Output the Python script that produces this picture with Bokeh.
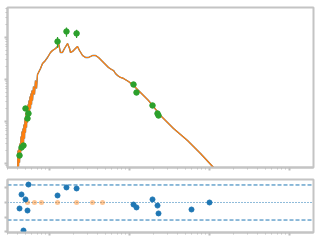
from bokeh.plotting import figure
from bokeh.layouts import column
from bokeh.models import Range1d, LogTicker, FixedTicker, Span
from bokeh.embed import file_html
from bokeh.resources import INLINE

# ---- data (wavelength in micron, flux) ----
model_wave = [0.0398, 0.0404, 0.0410, 0.0416, 0.0422, 0.0428, 0.0434, 0.0441, 0.0447, 0.0453,
              0.0460, 0.0467, 0.0473, 0.0480, 0.0487, 0.0494, 0.0501, 0.0509, 0.0516, 0.0523,
              0.0531, 0.0539, 0.0546, 0.0554, 0.0562, 0.0571, 0.0579, 0.0587, 0.0596, 0.0604,
              0.0613, 0.0631, 0.0649, 0.0668, 0.0688, 0.0708, 0.0729,
              0.0772, 0.0818, 0.0866, 0.0944, 0.1029, 0.109,
              0.119, 0.126, 0.130, 0.133, 0.137, 0.145, 0.154, 0.168, 0.178, 0.183,
              0.194, 0.211, 0.224, 0.237, 0.259, 0.282, 0.307, 0.345, 0.376, 0.410,
              0.447, 0.487, 0.546, 0.596, 0.631, 0.668, 0.708, 0.772, 0.841, 0.972,
              1.122, 1.296, 1.496, 1.728, 1.939, 2.175, 2.441, 3.548, 5.309, 7.72,
              11.22, 15.85]
model_flux = [5.18e-15, 2.04e-14, 8.49e-15, 2.28e-14, 1.06e-14, 2.99e-14, 1.55e-14, 4.39e-14, 2.04e-14, 5.78e-14,
              2.54e-14, 6.81e-14, 2.99e-14, 8.49e-14, 3.94e-14, 1.18e-13, 5.47e-14, 1.64e-13, 7.20e-14, 2.28e-13,
              9.46e-14, 2.54e-13, 1.18e-13, 3.16e-13, 1.64e-13, 3.94e-13, 2.04e-13, 4.64e-13, 2.54e-13, 5.47e-13,
              3.16e-13, 6.81e-13, 4.39e-13, 9.46e-13, 6.11e-13, 1.32e-12, 1.47e-12,
              1.83e-12, 2.41e-12, 2.68e-12, 3.34e-12, 4.39e-12, 4.90e-12,
              5.47e-12, 6.11e-12, 7.20e-12, 5.78e-12, 4.39e-12, 4.39e-12, 5.47e-12, 7.20e-12, 5.47e-12, 4.39e-12,
              4.64e-12, 5.47e-12, 6.11e-12, 4.90e-12, 3.73e-12, 3.34e-12, 3.34e-12, 3.73e-12, 3.73e-12, 3.34e-12,
              2.83e-12, 2.41e-12, 1.93e-12, 1.73e-12, 1.64e-12, 1.39e-12, 1.25e-12, 1.12e-12, 1.06e-12, 8.95e-13,
              7.20e-13, 5.47e-13, 4.16e-13, 3.16e-13, 2.41e-13, 1.83e-13, 1.39e-13, 6.81e-14, 3.53e-14, 1.73e-14,
              8.03e-15, 4.16e-15]

phot_wave = [0.0422, 0.0447, 0.0473, 0.0501, 0.0531, 0.0546, 0.126, 0.163, 0.218,
             1.122, 1.223, 1.939, 2.239, 2.304]
phot_flux = [1.55e-14, 2.41e-14, 2.68e-14, 2.04e-13, 1.18e-13, 1.55e-13, 8.03e-12, 1.39e-11, 1.25e-11,
             7.60e-13, 4.90e-13, 2.41e-13, 1.55e-13, 1.39e-13]
phot_err = [1.5e-15, 2.5e-15, 2.7e-15, 2.0e-14, 1.2e-14, 1.5e-14, 2.3e-12, 3.5e-12, 2.8e-12,
            7e-14, 5e-14, 2.4e-14, 1.5e-14, 1.4e-14]

resid_wave = [0.0422, 0.0447, 0.0473, 0.0501, 0.0531, 0.0546, 0.126, 0.163, 0.218,
              1.122, 1.223, 1.939, 2.239, 2.304, 5.957, 10.0]
resid_val = [-0.41, 0.55, -1.92, 0.21, -0.55, 1.23, 0.48, 1.03, 0.96,
             -0.14, -0.34, 0.21, -0.21, -0.75, -0.48, 0.0]

excl_wave = [0.0531, 0.0649, 0.0794, 0.126, 0.218, 0.345, 0.460]
excl_val = [0.0, 0.0, 0.0, 0.0, 0.0, 0.0, 0.0]

limit = 1.2

BLUE = "#1f77b4"
ORANGE = "#ff7f0e"
GREEN = "#2ca02c"
FRAME = "#c4c4c4"
TICK = "#c0c0c0"

x_lo, x_hi = 0.02985, 199.5


def style(p):
    p.grid.visible = False
    p.outline_line_color = FRAME
    p.outline_line_width = 2
    p.background_fill_color = "white"
    p.border_fill_color = "white"
    for ax in p.xaxis + p.yaxis:
        ax.axis_line_color = FRAME
        ax.axis_line_width = 2
        ax.major_tick_line_color = TICK
        ax.major_tick_line_width = 2
        ax.major_tick_out = 3
        ax.major_tick_in = 0
        ax.minor_tick_line_color = TICK
        ax.minor_tick_line_width = 1
        ax.minor_tick_out = 2
        ax.minor_tick_in = 0
        ax.major_label_text_font_size = "1px"
        ax.major_label_text_alpha = 0
        ax.major_label_standoff = 0


top = figure(width=320, height=172, x_axis_type="log", y_axis_type="log",
             x_range=Range1d(x_lo, x_hi), y_range=Range1d(8.03e-15, 5.18e-11),
             min_border_left=7, min_border_right=7, min_border_top=7, min_border_bottom=5,
             output_backend="svg", toolbar_location=None)
top.xaxis.ticker = LogTicker(num_minor_ticks=10)
top.yaxis.ticker = LogTicker(num_minor_ticks=10)
style(top)

top.line(model_wave, model_flux, line_color=BLUE, line_width=1.3)
top.line(model_wave, model_flux, line_color=ORANGE, line_width=1.2)
lo = [f - e for f, e in zip(phot_flux, phot_err)]
hi = [f + e for f, e in zip(phot_flux, phot_err)]
top.segment(x0=phot_wave, y0=lo, x1=phot_wave, y1=hi, line_color=GREEN, line_width=1.2)
top.scatter(phot_wave, phot_flux, size=5.5, color=GREEN)

bot = figure(width=320, height=68, x_axis_type="log",
             x_range=Range1d(x_lo, x_hi), y_range=Range1d(-2.055, 1.575),
             min_border_left=7, min_border_right=7, min_border_top=7, min_border_bottom=8,
             output_backend="svg", toolbar_location=None)
bot.xaxis.ticker = LogTicker(num_minor_ticks=10)
bot.yaxis.ticker = FixedTicker(ticks=[-2, -1, 0, 1])
style(bot)

for loc in (limit, -limit):
    bot.add_layout(Span(location=loc, dimension="width", line_color=BLUE,
                        line_width=1, line_dash="4 2", level="underlay"))
bot.add_layout(Span(location=0, dimension="width", line_color=BLUE,
                    line_width=1, line_dash="1 2", level="underlay"))
bot.scatter(excl_wave, excl_val, size=5, fill_color=ORANGE, fill_alpha=0.45, line_color=None)
bot.scatter(resid_wave, resid_val, size=5, color=BLUE)

layout = column(top, bot)
open("out.html", "w").write(file_html(layout, INLINE))
